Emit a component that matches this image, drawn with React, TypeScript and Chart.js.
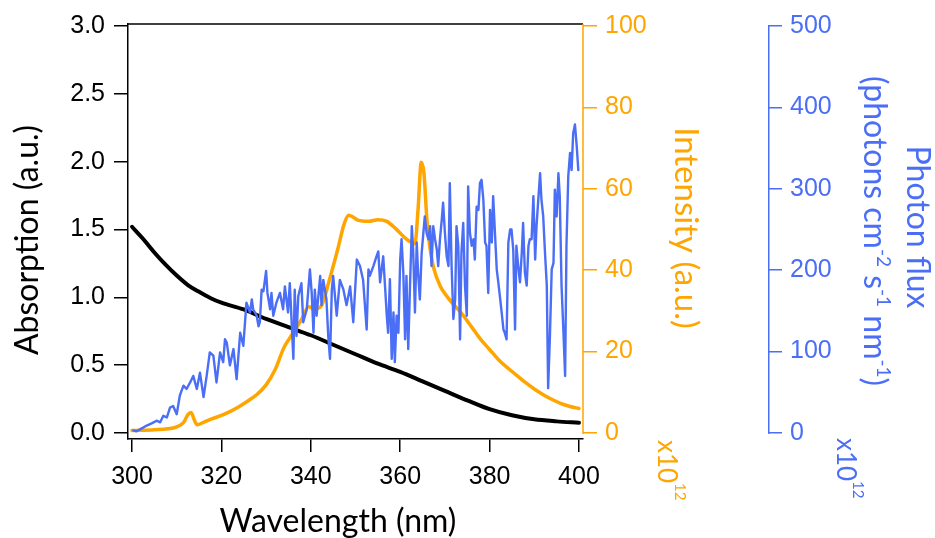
import React, { useEffect, useRef } from 'react';
import { Chart, registerables } from 'chart.js';

Chart.register(...registerables);

const ORANGE = '#FFA500';
const BLUE = '#4A6EF5';

// Absorption (left axis, a.u.)
const absorptionWl = [300, 302.5, 305, 307.5, 310, 312.5, 315, 317.5, 320, 325, 330, 335, 340, 345, 350, 355, 360, 365, 370, 375, 380, 385, 390, 395, 400];
const absorptionVal = [1.52, 1.43, 1.33, 1.24, 1.16, 1.09, 1.04, 0.995, 0.96, 0.91, 0.84, 0.78, 0.72, 0.65, 0.58, 0.51, 0.45, 0.38, 0.31, 0.24, 0.175, 0.13, 0.1, 0.085, 0.075];

// Lamp intensity (orange axis, x10^12)
const intensityWl = [300, 305, 308, 310, 311.5, 312.5, 313.2, 314, 314.6, 316, 318, 320, 322, 324, 326, 328, 330, 332, 334, 336, 338, 339.5, 341, 342.5, 344, 346, 347.5, 348.5, 349.5, 350.5, 353, 355, 357, 359, 361, 362.5, 363.3, 364, 364.7, 365.3, 366, 366.6, 367.5, 369, 370.5, 372, 374, 376, 378, 380, 382, 384, 386, 388, 390, 392, 394, 396, 398, 400];
const intensityVal = [0.6, 0.8, 1.0, 1.5, 2.5, 4.5, 5.0, 3.0, 2.0, 2.6, 3.5, 4.3, 5.3, 6.5, 7.9, 9.5, 11.8, 15.5, 21, 24.5, 28, 31, 30.5, 31.5, 37, 45, 51.5, 53.5, 53, 52.3, 52, 52.4, 52, 50.2, 48, 46.8, 46.5, 55, 66.5, 64, 52, 46, 40.5, 36, 33.5, 31.5, 29, 26, 23, 20.5, 18, 16, 14.2, 12.4, 10.8, 9.4, 8.2, 7.2, 6.5, 6.0];

// Photon flux (blue axis, x10^12 photons cm-2 s-1 nm-1)
const fluxWl = [300.3, 301.0, 302.0, 303.3, 304.5, 305.5, 306.3, 307.0, 307.8, 308.5, 309.2, 310.0, 310.7, 311.5, 312.2, 313.0, 313.7, 314.5, 315.2, 316.0, 316.7, 317.4, 318.2, 318.9, 319.7, 320.4, 320.8, 321.2, 321.9, 322.7, 323.4, 324.2, 324.9, 325.6, 326.4, 326.8, 327.1, 327.9, 328.3, 328.6, 329.0, 329.4, 330.0, 330.3, 330.9, 331.2, 331.6, 332.3, 333.1, 333.8, 334.2, 334.9, 335.3, 336.1, 336.4, 336.8, 337.2, 337.9, 338.3, 339.1, 339.8, 340.2, 340.6, 340.9, 341.3, 342.1, 342.4, 342.8, 343.5, 343.9, 344.3, 344.7, 345.0, 345.8, 346.5, 347.3, 348.0, 348.8, 349.5, 350.3, 351.0, 351.7, 352.5, 352.9,
  353.2, 354.0, 354.7, 355.1, 355.5, 356.2, 356.6, 357.0, 357.3, 357.7, 358.1, 358.5, 358.8, 359.2, 359.6, 360.0, 360.3, 360.7, 361.1, 361.4, 361.8, 362.2, 362.6, 362.9, 363.3, 363.7, 364.0, 364.4, 364.8, 365.5, 365.9, 366.3, 366.7, 367.0, 367.4, 367.8, 368.2, 368.5, 368.9, 369.3, 369.6, 370.0, 370.4, 370.8, 371.1, 371.5, 371.9, 372.3, 372.6, 373.0, 373.4, 373.7, 374.1, 374.5, 374.9, 375.2, 375.6, 376.0, 376.4, 376.7, 377.1, 377.5, 377.85, 378.2, 378.6, 379.0, 379.3, 379.7, 380.1, 380.5, 380.8, 381.2, 381.6, 381.95, 382.3, 382.7, 383.1, 383.4, 383.8, 384.2, 384.6, 384.9, 385.3, 385.7, 386.0, 386.4, 386.8, 387.2, 387.5, 387.9, 388.3, 388.7, 389.0, 389.4, 389.8, 390.2, 390.5, 390.9, 391.3, 391.6, 392.0, 392.4, 392.8, 393.1, 393.5, 393.9, 394.3, 394.6, 395.0, 395.4, 395.7, 396.1, 396.5, 396.9, 397.2, 397.6, 398.0, 398.35, 398.7, 399.1, 399.5, 399.85];
const fluxVal = [3, 2, 5, 9, 12, 15, 13, 21, 19, 31, 33, 23, 46, 58, 54, 62, 70, 54, 74, 44, 70, 99, 95, 62, 99, 87, 115, 111, 83, 103, 66, 123, 107, 160, 148, 164, 152, 144, 131, 136, 176, 174, 199, 172, 152, 172, 144, 160, 172, 152, 180, 148, 184, 91, 176, 119, 168, 184, 136, 152, 201, 172, 123, 176, 144, 193, 157, 188, 164, 119, 91, 176, 193, 144, 188, 176, 157, 180, 136, 213, 205, 188, 127, 201,
  193, 205, 217, 223, 185, 217, 181, 144, 123, 189, 91, 148, 87, 144, 123, 213, 238, 197, 115, 193, 103, 181, 254, 225, 148, 234, 197, 164, 221, 266, 246, 238, 254, 205, 254, 238, 225, 205, 238, 262, 283, 246, 217, 205, 307, 205, 140, 164, 254, 230, 115, 221, 258, 181, 144, 303, 246, 230, 238, 213, 278, 274, 307, 311, 287, 234, 230, 172, 274, 234, 291, 246, 201, 185, 168, 148, 127, 123, 115, 234, 250, 250, 225, 127, 230, 205, 185, 221, 258, 197, 181, 230, 238, 238, 291, 213, 254, 287, 319, 287, 266, 221, 181, 55, 119, 201, 209, 299, 266, 319, 291, 181, 127, 70, 230, 315, 344, 323, 368, 379, 352, 323];

// Tick values
const xTicks = [300, 320, 340, 360, 380, 400];
const absTicks = [0, 0.5, 1.0, 1.5, 2.0, 2.5, 3.0];
const intTicks = [0, 20, 40, 60, 80, 100];
const fluxTicks = [0, 100, 200, 300, 400, 500];

const TICK_FONT = { family: 'Liberation Sans', size: 25 };
const TITLE_FAMILY = 'Lato';

type Seg = { t: string; size: number; rise?: number };

function drawRotated(ctx: CanvasRenderingContext2D, segs: Seg[], x: number, y: number, angle: number, color: string, align: 'center' | 'left') {
  ctx.save();
  ctx.fillStyle = color;
  ctx.textBaseline = 'alphabetic';
  ctx.textAlign = 'left';
  let total = 0;
  const widths = segs.map((s) => {
    ctx.font = `${s.size}px ${TITLE_FAMILY}`;
    const w = ctx.measureText(s.t).width;
    total += w;
    return w;
  });
  ctx.translate(x, y);
  ctx.rotate(angle);
  let cx = align === 'center' ? -total / 2 : 0;
  segs.forEach((s, i) => {
    ctx.font = `${s.size}px ${TITLE_FAMILY}`;
    ctx.fillText(s.t, cx, -(s.rise || 0));
    cx += widths[i];
  });
  ctx.restore();
}

const annotate = {
  id: 'annotate',
  afterDraw(chart: any) {
    const ctx: CanvasRenderingContext2D = chart.ctx;
    const a = chart.chartArea;
    const sI = chart.scales.yInt;
    const sF = chart.scales.yFlux;
    ctx.save();
    ctx.lineWidth = 1.5;
    ctx.strokeStyle = '#000';
    ctx.beginPath();
    ctx.moveTo(a.left, a.top);
    ctx.lineTo(a.right, a.top);
    ctx.stroke();
    ctx.strokeStyle = ORANGE;
    ctx.beginPath();
    ctx.moveTo(a.right, a.top);
    ctx.lineTo(a.right, sI.getPixelForValue(0) + 0.75);
    ctx.stroke();
    ctx.strokeStyle = BLUE;
    ctx.beginPath();
    ctx.moveTo(sF.left + 0.75, sF.getPixelForValue(500) - 0.75);
    ctx.lineTo(sF.left + 0.75, sF.getPixelForValue(0) + 0.75);
    ctx.stroke();
    ctx.restore();

    const H = Math.PI / 2;
    drawRotated(ctx, [{ t: 'Absorption (a.u.)', size: 32 }], 38, 240, -H, '#000', 'center');
    drawRotated(ctx, [{ t: 'Wavelength (nm)', size: 32 }], 338, 532, 0, '#000', 'center');
    drawRotated(ctx, [{ t: 'Intensity (a.u.)', size: 33 }], 675, 228, H, ORANGE, 'center');
    drawRotated(ctx, [{ t: 'x10', size: 26 }, { t: '12', size: 15, rise: 17 }], 658, 440, H, ORANGE, 'left');
    drawRotated(ctx, [{ t: 'Photon flux', size: 32 }], 907, 227, H, BLUE, 'center');
    drawRotated(ctx, [
      { t: '(photons cm', size: 32 },
      { t: '-2', size: 19, rise: 13 },
      { t: ' s', size: 32 },
      { t: '-1', size: 19, rise: 13 },
      { t: ' nm', size: 32 },
      { t: '-1', size: 19, rise: 13 },
      { t: ')', size: 32 },
    ], 864, 231, H, BLUE, 'center');
    drawRotated(ctx, [{ t: 'x10', size: 26 }, { t: '12', size: 15, rise: 16 }], 837, 438, H, BLUE, 'left');
  },
};

function axisBase(color: string, tickLength: number) {
  return {
    grid: { drawOnChartArea: false, drawTicks: true, tickLength, color, lineWidth: 1.5 },
  };
}

function fixedTicks(values: number[]) {
  return (s: any) => {
    s.ticks = values.map((v) => ({ value: v }));
  };
}

export default function App() {
  const ref = useRef<HTMLCanvasElement | null>(null);
  useEffect(() => {
    if (!ref.current) return;
    const chart = new Chart(ref.current, {
      type: 'line',
      data: {
        datasets: [
          {
            label: 'Photon flux',
            data: fluxWl.map((x, i) => ({ x, y: fluxVal[i] })),
            borderColor: BLUE,
            borderWidth: 2.4,
            pointRadius: 0,
            tension: 0,
            yAxisID: 'yFlux',
            order: 0,
          },
          {
            label: 'Intensity',
            data: intensityWl.map((x, i) => ({ x, y: intensityVal[i] })),
            borderColor: ORANGE,
            borderWidth: 3.5,
            pointRadius: 0,
            cubicInterpolationMode: 'monotone',
            yAxisID: 'yInt',
            order: 1,
          },
          {
            label: 'Absorption',
            data: absorptionWl.map((x, i) => ({ x, y: absorptionVal[i] })),
            borderColor: '#000',
            borderWidth: 4,
            pointRadius: 0,
            cubicInterpolationMode: 'monotone',
            yAxisID: 'y',
            order: 2,
          },
        ],
      },
      options: {
        animation: false,
        responsive: false,
        devicePixelRatio: 1,
        layout: { padding: { top: 24, left: 0, right: 0, bottom: 0 } },
        plugins: { legend: { display: false }, tooltip: { enabled: false }, title: { display: false } },
        elements: { line: { borderJoinStyle: 'round', borderCapStyle: 'round' } },
        scales: {
          x: {
            type: 'linear',
            position: 'bottom',
            min: 299.1,
            max: 400.9,
            ...axisBase('#000', 13),
            border: { display: true, color: '#000', width: 1.5 },
            ticks: { font: TICK_FONT, color: '#000', padding: 10, maxRotation: 0, autoSkip: false },
            afterBuildTicks: fixedTicks(xTicks),
            afterFit: (s: any) => { s.height = 99; },
          },
          y: {
            type: 'linear',
            position: 'left',
            min: -0.045,
            max: 3.015,
            ...axisBase('#000', 14),
            border: { display: true, color: '#000', width: 1.5 },
            ticks: { font: TICK_FONT, color: '#000', padding: 9, callback: (v: any) => Number(v).toFixed(1) },
            afterBuildTicks: fixedTicks(absTicks),
            afterFit: (s: any) => { s.width = 128; },
          },
          yInt: {
            type: 'linear',
            position: 'right',
            min: -1.5,
            max: 100.5,
            weight: 0,
            ...axisBase(ORANGE, 14),
            border: { display: false },
            ticks: { font: TICK_FONT, color: ORANGE, padding: 8 },
            afterBuildTicks: fixedTicks(intTicks),
            afterFit: (s: any) => { s.width = 185; },
          },
          yFlux: {
            type: 'linear',
            position: 'right',
            min: -7.5,
            max: 502.5,
            weight: 1,
            ...axisBase(BLUE, 14),
            border: { display: false },
            ticks: { font: TICK_FONT, color: BLUE, padding: 8 },
            afterBuildTicks: fixedTicks(fluxTicks),
            afterFit: (s: any) => { s.width = 167; },
          },
        },
      },
      plugins: [annotate],
    } as any);
    return () => chart.destroy();
  }, []);
  return (
    <div style={{ position: 'fixed', left: 0, top: 0, width: 935, height: 538, background: '#fff' }}>
      <canvas ref={ref} width={935} height={538} />
    </div>
  );
}
